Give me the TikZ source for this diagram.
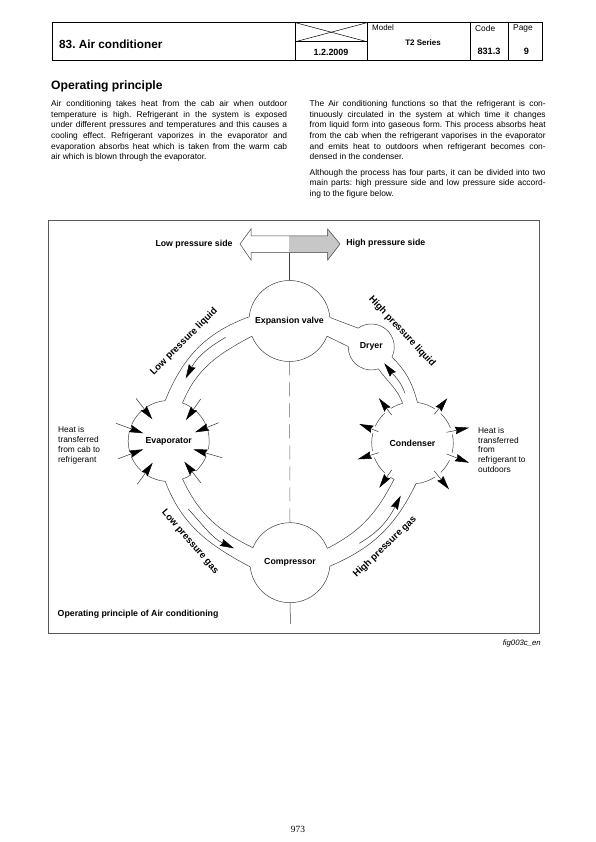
\documentclass[tikz,border=0pt]{standalone}
\usepackage{fontspec}
\setmainfont{Liberation Sans}
\newfontfamily\pagenofont{Liberation Serif}
\usetikzlibrary{
    arrows.meta,
    positioning,
    calc,
}
\frenchspacing

\begin{document}
\begin{tikzpicture}[
        x=1bp, y=1bp,
        cell/.style={draw=black, line width=0.9bp},
        bodytext/.style={anchor=north west, inner sep=0pt, text width=236bp, align=justify,
            font=\fontsize{8.45}{10.67}\selectfont},
        smalltext/.style={anchor=west, inner sep=0pt, align=left,
            font=\fontsize{8.4}{10}\selectfont},
        boldlabel/.style={inner sep=0pt, font=\fontsize{8.8}{10}\selectfont\bfseries},
        pipelabel/.style={inner sep=0pt, font=\fontsize{9.6}{10}\selectfont\bfseries},
        part/.style={circle, inner sep=0pt, outer sep=0pt, font=\fontsize{8.8}{10}\selectfont\bfseries},
        partline/.style={draw=black!75, line width=0.5bp},
        pipe/.style={draw=black!75, line width=0.5bp},
        flow/.style={-{Stealth[length=14bp, width=7.5bp, inset=1.5bp, color=black]}, draw=black!80, line width=0.5bp},
        heat/.style={-{Stealth[length=14bp, width=7.5bp, inset=1.5bp, color=black]}, draw=black!80, line width=0.5bp},
    ]
        \useasboundingbox (0,0) rectangle (596,842);

        % Header
        \draw[cell] (52.5,819.3) rectangle (542,781.3);
        \draw[cell] (295.5,819.3) -- (295.5,781.3);
        \draw[cell] (367,819.3) -- (367,781.3);
        \draw[cell] (470,819.3) -- (470,781.3);
        \draw[cell] (508,819.3) -- (508,781.3);
        \draw[cell] (295.5,800.3) -- (367,800.3);
        \draw[cell, line width=0.5bp] (295.5,819.3) -- (367,800.3);
        \draw[cell, line width=0.5bp] (295.5,800.3) -- (367,819.3);
        \node[anchor=west, inner sep=0pt, font=\fontsize{11.8}{14}\selectfont\bfseries] (title) at (59,798) {83. Air conditioner};
        \node[boldlabel, font=\fontsize{9}{10}\selectfont\bfseries] (date) at (331,790) {1.2.2009};
        \node[smalltext, font=\fontsize{8}{10}\selectfont] (model) at (372,814) {Model};
        \node[boldlabel, font=\fontsize{8}{10}\selectfont\bfseries] (series) at (423,799) {T2 Series};
        \node[smalltext] (code) at (475,813) {Code};
        \node[smalltext] (page) at (513,813) {Page};
        \node[boldlabel, font=\fontsize{9.2}{10}\selectfont\bfseries] (codeno) at (489,790.5) {831.3};
        \node[boldlabel, font=\fontsize{9.2}{10}\selectfont\bfseries] (pageno) at (526.5,790.5) {9};

        % Text
        \node[anchor=west, inner sep=0pt, font=\fontsize{12.2}{14}\selectfont\bfseries] (heading) at (51,756) {Operating principle};
        \node[bodytext] (colleft) at (51,741.8) {Air conditioning takes heat from the cab air when outdoor\linebreak
            temperature is high. Refrigerant in the system is exposed\linebreak
            under different pressures and temperatures and this causes a\linebreak
            cooling effect. Refrigerant vaporizes in the evaporator and\linebreak
            evaporation absorbs heat which is taken from the warm cab\linebreak
            air which is blown through the evaporator.};
        \node[bodytext] (colright) at (309.5,741.8) {The Air conditioning functions so that the refrigerant is con-\linebreak
            tinuously circulated in the system at which time it changes\linebreak
            from liquid form into gaseous form. This process absorbs heat\linebreak
            from the cab when the refrigerant vaporises in the evaporator\linebreak
            and emits heat to outdoors when refrigerant becomes con-\linebreak
            densed in the condenser.};
        \node[bodytext] (colnote) at (309.5,673.2) {Although the process has four parts, it can be divided into two\linebreak
            main parts: high pressure side and low pressure side accord-\linebreak
            ing to the figure below.};

        % Figure frame
        \draw[draw=black!65, line width=0.8bp] (48,622) rectangle (539,209);

        % Side arrow
        \draw[fill=black!22, draw=none] (289,606) -- (327.7,606) -- (327.7,613) -- (340,598)
            -- (327.7,582) -- (327.7,589.3) -- (289,589.3) -- cycle;
        \draw[partline] (240,598) -- (251,613) -- (251,606) -- (327.7,606) -- (327.7,613) -- (340,598)
            -- (327.7,582) -- (327.7,589.3) -- (251,589.3) -- (251,582) -- cycle;
        \node[boldlabel] (lowside) at (194,598) {Low pressure side};
        \node[boldlabel] (highside) at (385.8,599) {High pressure side};

        % Parts
        \node[part, minimum size=81bp] (valve) at (289.5,521) {\raisebox{-2.5pt}{Expansion valve}};
        \node[part, minimum size=81bp] (evap) at (168.7,401) {Evaporator};
        \node[part, minimum size=81.6bp] (cond) at (412.5,399) {\raisebox{-1.5pt}{Condenser}};
        \node[part, minimum size=80bp] (comp) at (290,279.3) {\raisebox{2pt}{Compressor}};
        \node[part, minimum size=46bp] (dryer) at (371.3,495) {\raisebox{3pt}{Dryer}};

        \draw[partline, radius=40.5] (valve.5) arc[start angle=5, end angle=174]
            (valve.202) arc[start angle=202, end angle=338];
        \draw[partline, radius=40] (comp.21) arc[start angle=21, end angle=158]
            (comp.186) arc[start angle=186, end angle=355];
        \draw[partline, radius=23] (dryer.-26) arc[start angle=-26, end angle=125]
            (dryer.179) arc[start angle=179, end angle=288];
        \draw[partline, radius=40.5] (evap.95) arc[start angle=95, end angle=122]
            (evap.132) arc[start angle=132, end angle=156]
            (evap.166) arc[start angle=166, end angle=194]
            (evap.204) arc[start angle=204, end angle=227]
            (evap.237) arc[start angle=237, end angle=265]
            (evap.290) arc[start angle=290, end angle=303]
            (evap.313) arc[start angle=313, end angle=338]
            (evap.348) arc[start angle=348, end angle=374]
            (evap.24) arc[start angle=24, end angle=48]
            (evap.58) arc[start angle=58, end angle=70];
        \draw[partline, radius=40.8] (cond.275) arc[start angle=275, end angle=304]
            (cond.314) arc[start angle=314, end angle=335]
            (cond.346) arc[start angle=346, end angle=372]
            (cond.22) arc[start angle=22, end angle=46]
            (cond.57) arc[start angle=57, end angle=83]
            (cond.104) arc[start angle=104, end angle=122]
            (cond.133) arc[start angle=133, end angle=156]
            (cond.166) arc[start angle=166, end angle=191]
            (cond.201) arc[start angle=201, end angle=227]
            (cond.237) arc[start angle=237, end angle=243.6];

        % Pipes
        \draw[pipe] (valve.174) to[out=200, in=68] (evap.95);
        \draw[pipe] (valve.202) to[out=208, in=68] (evap.70);
        \draw[pipe] (evap.265) to[out=-69, in=152] (comp.186);
        \draw[pipe] (evap.290) to[out=-65, in=154] (comp.158);
        \draw[pipe] (comp.21) to[out=27, in=243] (cond.243.6);
        \draw[pipe] (comp.-5) to[out=23, in=244] (cond.275);
        \draw[pipe] (valve.5) -- (dryer.125);
        \draw[pipe] (valve.-22) -- (dryer.179);
        \draw[pipe] (dryer.288) to[out=-55, in=110] (cond.104);
        \draw[pipe] (dryer.-26) to[out=-45, in=105] (cond.83);

        % Centre line
        \coordinate (sidefoot) at (289.5,589.3);
        \coordinate (compfoot) at (290.5,218);
        \draw[partline] (valve.north) -- (sidefoot);
        \draw[draw=black!60, line width=0.5bp, dash pattern=on 14bp off 7bp] (valve.south) -- (comp.north);
        \draw[partline] (comp.south) -- (compfoot);

        % Refrigerant flow
        \coordinate (liqtail) at (225.7,504.7);
        \coordinate (liqtip) at (185.7,463.7);
        \coordinate (drytail) at (405,448.7);
        \coordinate (drytip) at (384.3,478.7);
        \coordinate (lowtail) at (188.3,333);
        \coordinate (lowtip) at (234,293.7);
        \coordinate (hightail) at (359.3,298.7);
        \coordinate (hightip) at (400.7,346.3);
        \draw[flow] (liqtail) to[out=210, in=62] (liqtip);
        \draw[flow] (drytail) to[out=110, in=-52] (drytip);
        \draw[flow] (lowtail) to[out=-48, in=155] (lowtip);
        \draw[flow] (hightail) to[out=30, in=243] (hightip);

        % Heat into the evaporator
        \coordinate (ea) at (136,443.7);
        \coordinate (eb) at (116,418.7);
        \coordinate (ec) at (118.3,383.3);
        \coordinate (ed) at (137.3,357.7);
        \coordinate (ee) at (200.7,443);
        \coordinate (ef) at (218.7,419.3);
        \coordinate (eg) at (222,384.3);
        \coordinate (eh) at (200.7,359.3);
        \coordinate (eatip) at (152.3,422.7);
        \coordinate (ebtip) at (143.3,408.7);
        \coordinate (ectip) at (143.3,392.7);
        \coordinate (edtip) at (152.7,379.3);
        \coordinate (eetip) at (186,422);
        \coordinate (eftip) at (195,409.7);
        \coordinate (egtip) at (193.3,392.7);
        \coordinate (ehtip) at (184.3,380.3);
        \draw[heat] (ea) -- (eatip);
        \draw[heat] (eb) -- (ebtip);
        \draw[heat] (ec) -- (ectip);
        \draw[heat] (ed) -- (edtip);
        \draw[heat] (ee) -- (eetip);
        \draw[heat] (ef) -- (eftip);
        \draw[heat] (eg) -- (egtip);
        \draw[heat] (eh) -- (ehtip);

        % Heat out of the condenser
        \coordinate (ca) at (391.7,427);
        \coordinate (cb) at (378.3,410.3);
        \coordinate (cc) at (378.7,389.3);
        \coordinate (cd) at (391.7,372);
        \coordinate (ce) at (434.3,427.7);
        \coordinate (cf) at (446.7,409.7);
        \coordinate (cg) at (446.7,388);
        \coordinate (ch) at (434.3,371);
        \coordinate (catip) at (379,443.7);
        \coordinate (cbtip) at (359.3,418);
        \coordinate (cctip) at (357.7,382.7);
        \coordinate (cdtip) at (379.3,354.3);
        \coordinate (cetip) at (447.3,443.7);
        \coordinate (cftip) at (469,414.3);
        \coordinate (cgtip) at (469,379.3);
        \coordinate (chtip) at (449,352.7);
        \draw[heat] (ca) -- (catip);
        \draw[heat] (cb) -- (cbtip);
        \draw[heat] (cc) -- (cctip);
        \draw[heat] (cd) -- (cdtip);
        \draw[heat] (ce) -- (cetip);
        \draw[heat] (cf) -- (cftip);
        \draw[heat] (cg) -- (cgtip);
        \draw[heat] (ch) -- (chtip);

        % Labels
        \node[pipelabel, rotate=45] (lowliquid) at (184,500.3) {Low pressure liquid};
        \node[pipelabel, rotate=-47] (highliquid) at (402,510.3) {High pressure liquid};
        \node[pipelabel, rotate=-49] (lowgas) at (190,300) {Low pressure gas};
        \node[pipelabel, rotate=44] (highgas) at (385,295) {High pressure gas};
        \node[smalltext] (heatin) at (58,397) {Heat is\\transferred\\from cab to\\refrigerant};
        \node[smalltext] (heatout) at (478,392) {Heat is\\transferred\\from\\refrigerant to\\outdoors};
        \node[boldlabel, anchor=west] (figtitle) at (57.5,228) {Operating principle of Air conditioning};
        \node[anchor=east, inner sep=0pt, font=\fontsize{7.8}{9}\selectfont\itshape] (figcode) at (541,199) {fig003c\_en};
        \node[inner sep=0pt, font=\fontsize{9.5}{11}\selectfont\pagenofont] (sheetno) at (298,13) {973};
    \end{tikzpicture}
\end{document}
